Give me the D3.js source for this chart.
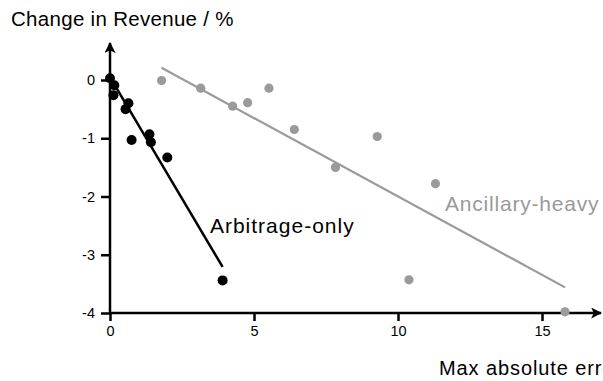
<!DOCTYPE html>
<html>
<head>
<meta charset="utf-8">
<script src="https://cdn.jsdelivr.net/npm/d3@7"></script>
<style>
  html, body { margin: 0; padding: 0; background: #fff; overflow: hidden; }
  svg { display: block; font-family: "Liberation Sans", Arial, sans-serif; }
</style>
</head>
<body>
<div id="chart"></div>
<script>
  // Arbitrage-only scenarios (max abs error %, change in revenue %)
  const arbX = [0, 0.15, 0.12, 0.64, 0.54, 0.75, 1.37, 1.42, 1.99, 3.91];
  const arbY = [0.03, -0.09, -0.26, -0.40, -0.50, -1.03, -0.93, -1.07, -1.33, -3.44];
  const arbFit = [[0, 0.05], [3.91, -3.21]];

  // Ancillary-heavy scenarios
  const ancX = [1.79, 3.15, 4.26, 4.78, 5.52, 6.40, 7.83, 9.28, 11.30, 10.38, 15.80];
  const ancY = [-0.01, -0.14, -0.45, -0.39, -0.14, -0.85, -1.50, -0.97, -1.78, -3.43, -3.98];
  const ancFit = [[1.79, 0.21], [15.8, -3.56]];

  const xTicks = [0, 5, 10, 15];
  const yTicks = [0, -1, -2, -3, -4];

  const width = 603, height = 381;
  const grey = "#9a9a9a";

  const x = d3.scaleLinear().domain([0, 15]).range([110, 542]);
  const y = d3.scaleLinear().domain([-4, 0]).range([313, 80]);

  const svg = d3.select("#chart").append("svg")
    .attr("width", width)
    .attr("height", height);

  const defs = svg.append("defs");
  defs.append("marker")
    .attr("id", "arrow")
    .attr("viewBox", "0 0 10 10")
    .attr("refX", 9).attr("refY", 5)
    .attr("markerWidth", 4.4).attr("markerHeight", 4.4)
    .attr("markerUnits", "strokeWidth")
    .attr("orient", "auto")
    .append("path")
      .attr("d", "M0,0 L10,5 L0,10 L2.5,5 Z")
      .attr("fill", "#000");

  // axis lines with arrows
  svg.append("line")
    .attr("x1", x(0)).attr("y1", y(-4))
    .attr("x2", x(0)).attr("y2", 43)
    .attr("stroke", "#000").attr("stroke-width", 2.5)
    .attr("marker-end", "url(#arrow)");
  svg.append("line")
    .attr("x1", x(0)).attr("y1", y(-4))
    .attr("x2", 601).attr("y2", y(-4))
    .attr("stroke", "#000").attr("stroke-width", 2.5)
    .attr("marker-end", "url(#arrow)");

  const fmt = d => String(d); // plain hyphen minus, as in the original

  const yAxis = svg.append("g")
    .attr("transform", `translate(${x(0)},0)`)
    .call(d3.axisLeft(y).tickValues(yTicks).tickFormat(fmt).tickSize(9).tickPadding(6));
  const xAxis = svg.append("g")
    .attr("transform", `translate(0,${y(-4)})`)
    .call(d3.axisBottom(x).tickValues(xTicks).tickFormat(fmt).tickSize(8).tickPadding(5));

  [yAxis, xAxis].forEach(g => {
    g.select(".domain").remove();
    g.selectAll(".tick line").attr("stroke", "#000").attr("stroke-width", 2.5);
    g.selectAll(".tick text")
      .attr("fill", "#000")
      .style("font-size", "14.5px")
      .style("font-family", "'Liberation Sans', Arial, sans-serif");
  });

  // fit lines
  const line = d3.line().x(d => x(d[0])).y(d => y(d[1]));
  svg.append("path").datum(ancFit)
    .attr("d", line).attr("fill", "none")
    .attr("stroke", grey).attr("stroke-width", 2.2);
  svg.append("path").datum(arbFit)
    .attr("d", line).attr("fill", "none")
    .attr("stroke", "#000").attr("stroke-width", 2.5);

  // points
  svg.append("g")
    .selectAll("circle")
    .data(d3.zip(ancX, ancY))
    .join("circle")
      .attr("cx", d => x(d[0]))
      .attr("cy", d => y(d[1]))
      .attr("r", 4.6)
      .attr("fill", grey);

  svg.append("g")
    .selectAll("circle")
    .data(d3.zip(arbX, arbY))
    .join("circle")
      .attr("cx", d => x(d[0]))
      .attr("cy", d => y(d[1]))
      .attr("r", 5)
      .attr("fill", "#000");

  // series labels
  svg.append("text")
    .attr("x", x(3.47)).attr("y", y(-2.63))
    .attr("fill", "#000")
    .style("font-size", "21px")
    .style("letter-spacing", "1px")
    .text("Arbitrage-only");

  svg.append("text")
    .attr("x", x(11.63)).attr("y", y(-2.25))
    .attr("fill", grey)
    .style("font-size", "21px")
    .style("letter-spacing", "0.8px")
    .text("Ancillary-heavy");

  // axis titles
  svg.append("text")
    .attr("x", 11).attr("y", 26)
    .attr("fill", "#000")
    .style("font-size", "20.5px")
    .style("letter-spacing", "0.3px")
    .text("Change in Revenue / %");

  svg.append("text")
    .attr("x", 439).attr("y", 375)
    .attr("fill", "#000")
    .style("font-size", "20px")
    .style("letter-spacing", "0.9px")
    .text("Max absolute error / %");
</script>
</body>
</html>
